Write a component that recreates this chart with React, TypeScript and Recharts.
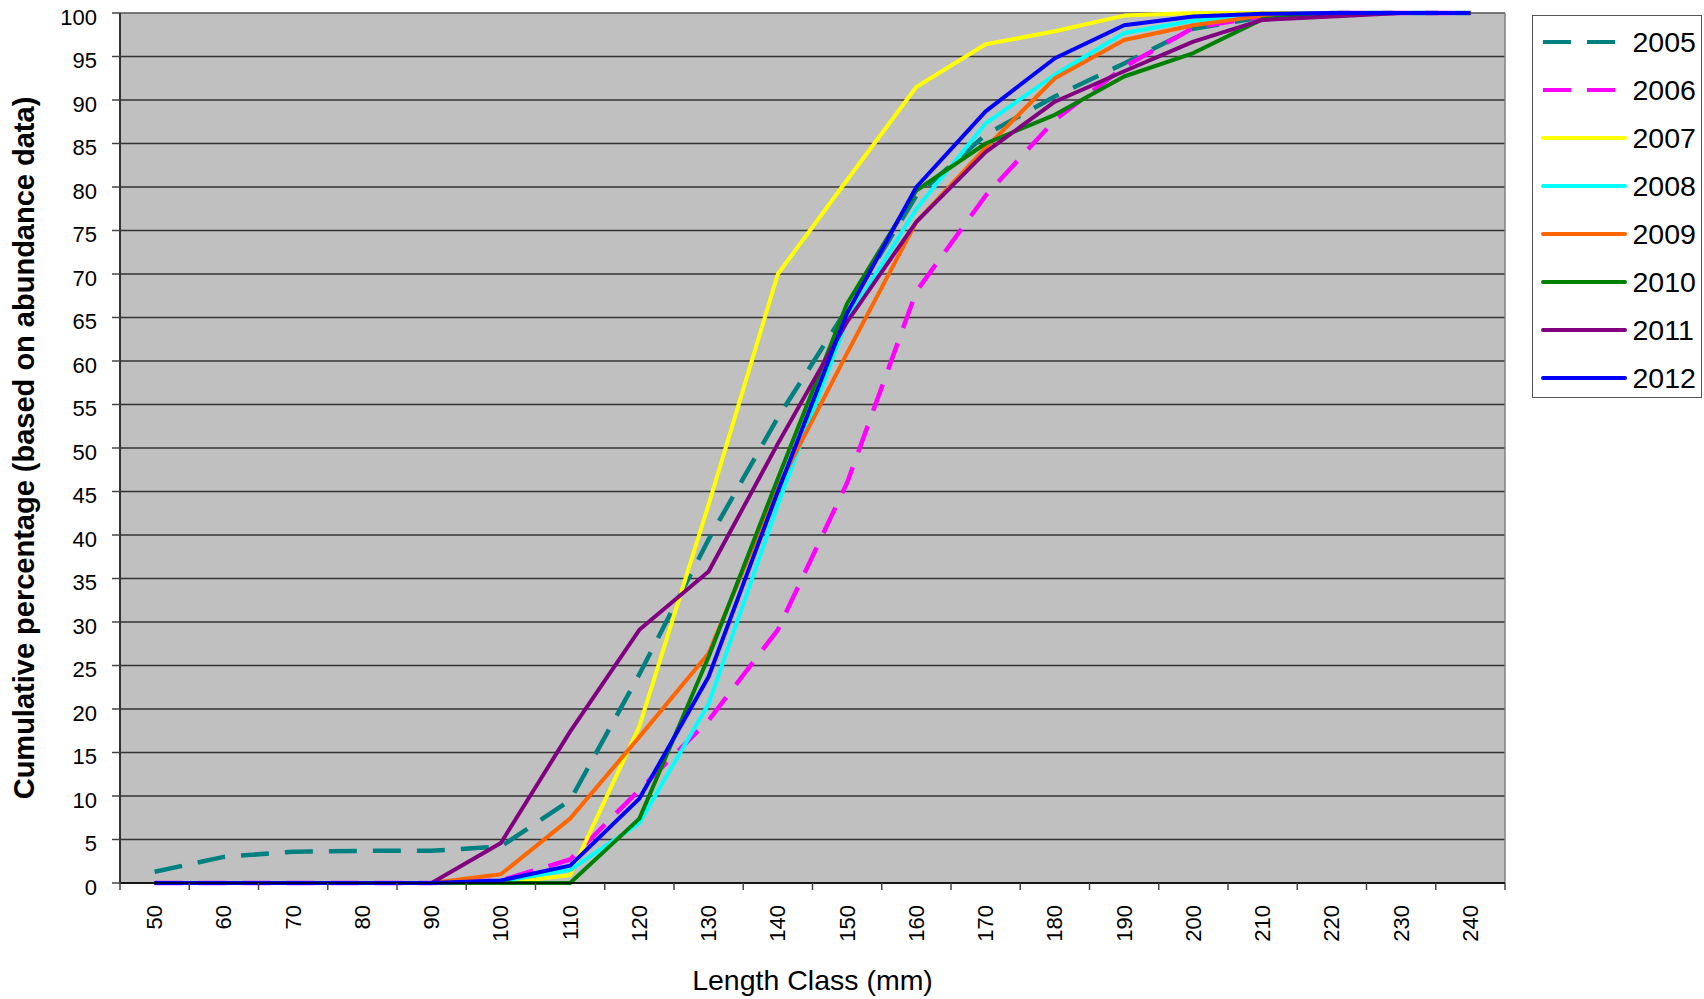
import { CartesianGrid, Line, LineChart, XAxis, YAxis } from "recharts";

const FONT = '"Liberation Sans", Arial, sans-serif';

const LENGTH_CLASSES = [50, 60, 70, 80, 90, 100, 110, 120, 130, 140, 150, 160, 170, 180, 190, 200, 210, 220, 230, 240];
const Y_TICKS = [0, 5, 10, 15, 20, 25, 30, 35, 40, 45, 50, 55, 60, 65, 70, 75, 80, 85, 90, 95, 100];

// cumulative % per length class
const Y2005 = [1.3, 3.0, 3.6, 3.7, 3.7, 4.2, 9.5, 24, 39.5, 53.5, 66, 79, 86, 90.4, 94.2, 98.2, 99.5, 100, 100, 100];
const Y2006 = [0, 0, 0, 0, 0, 0.3, 2.7, 10.7, 18.7, 29.1, 46, 68, 79, 87.7, 93.8, 98.3, 99.6, 100, 100, 100];
const Y2007 = [0, 0, 0, 0, 0, 0, 0.9, 18, 43.5, 70, 80.8, 91.5, 96.4, 97.9, 99.7, 100, 100, 100, 100, 100];
const Y2008 = [0, 0, 0, 0, 0, 0.2, 1.5, 6.9, 20.6, 43.5, 64.7, 77.5, 87.3, 92.9, 97.7, 99.1, 99.8, 100, 100, 100];
const Y2009 = [0, 0, 0, 0, 0, 1.0, 7.4, 16.8, 26.4, 45.5, 60.9, 76, 84.5, 92.5, 96.9, 98.6, 99.7, 100, 100, 100];
const Y2010 = [0, 0, 0, 0, 0, 0, 0, 7.4, 26, 46.5, 66.6, 79.6, 85, 88.3, 92.7, 95.4, 99.3, 100, 100, 100];
const Y2011 = [0, 0, 0, 0, 0, 4.6, 17.4, 29.1, 35.8, 50.5, 64.5, 76, 84, 89.8, 93.3, 96.7, 99.2, 99.6, 100, 100];
const Y2012 = [0, 0, 0, 0, 0, 0.3, 2.0, 9.7, 23.7, 45, 65.5, 80, 88.7, 94.8, 98.6, 99.6, 99.9, 100, 100, 100];

const SERIES = [
  { name: "2005", values: Y2005, color: "#008080", dashed: true },
  { name: "2006", values: Y2006, color: "#FF00FF", dashed: true },
  { name: "2007", values: Y2007, color: "#FFFF00", dashed: false },
  { name: "2008", values: Y2008, color: "#00FFFF", dashed: false },
  { name: "2009", values: Y2009, color: "#FF6600", dashed: false },
  { name: "2010", values: Y2010, color: "#008000", dashed: false },
  { name: "2011", values: Y2011, color: "#800080", dashed: false },
  { name: "2012", values: Y2012, color: "#0000FF", dashed: false },
];

const CHART_W = 1704;
const CHART_H = 999;
const MARGIN = { top: 13, right: 199, bottom: 0, left: 0 };
const Y_AXIS_W = 120;
const X_AXIS_H = 116;
const PLOT_W = CHART_W - MARGIN.left - MARGIN.right - Y_AXIS_W;
const BAND = PLOT_W / LENGTH_CLASSES.length; // excel-style category bands
const DASH = "28 16";

const rows = LENGTH_CLASSES.map((len, i) => {
  const row: Record<string, number | string> = { len: String(len) };
  SERIES.forEach((s) => {
    row[s.name] = s.values[i];
  });
  return row;
});

function XTick(props: any) {
  const { x, y, payload, index } = props;
  const last = index === LENGTH_CLASSES.length - 1;
  const ty = y + 22;
  return (
    <g>
      <line x1={x - BAND / 2} x2={x - BAND / 2} y1={y} y2={y + 7} stroke="#444" strokeWidth={1.5} />
      {last && <line x1={x + BAND / 2} x2={x + BAND / 2} y1={y} y2={y + 7} stroke="#444" strokeWidth={1.5} />}
      <text
        x={x}
        y={ty}
        transform={`rotate(-90 ${x} ${ty})`}
        textAnchor="end"
        dominantBaseline="central"
        fontSize={22}
        fontFamily={FONT}
        fill="#000"
      >
        {payload.value}
      </text>
    </g>
  );
}

function YTitle(props: any) {
  const vb = props.viewBox;
  const cx = vb.x + 23.5;
  const cy = vb.y + vb.height / 2;
  return (
    <text
      x={cx}
      y={cy}
      transform={`rotate(-90 ${cx} ${cy})`}
      textAnchor="middle"
      dominantBaseline="central"
      fontSize={29}
      fontWeight="bold"
      fontFamily={FONT}
      fill="#000"
    >
      Cumulative percentage (based on abundance data)
    </text>
  );
}

function LegendBox() {
  return (
    <div
      style={{
        position: "absolute",
        left: 1532,
        top: 15,
        width: 170,
        height: 383,
        boxSizing: "border-box",
        border: "1.5px solid #555",
        background: "#fff",
        paddingTop: 2,
      }}
    >
      {SERIES.map((s) => (
        <div key={s.name} style={{ display: "flex", alignItems: "center", height: 48 }}>
          <svg width={86} height={10} style={{ marginLeft: 7.5 }}>
            <line
              x1={2}
              x2={84}
              y1={5}
              y2={5}
              stroke={s.color}
              strokeWidth={4}
              strokeDasharray={s.dashed ? DASH : undefined}
              strokeLinecap={s.dashed ? "butt" : "round"}
            />
          </svg>
          <span style={{ marginLeft: 6, fontSize: 28.5, fontFamily: FONT, color: "#000", lineHeight: "48px" }}>
            {s.name}
          </span>
        </div>
      ))}
    </div>
  );
}

export default function App() {
  return (
    <div style={{ position: "absolute", left: 0, top: 0, width: CHART_W, height: CHART_H, background: "#fff" }}>
      <LineChart width={CHART_W} height={CHART_H} data={rows} margin={MARGIN}>
        <CartesianGrid vertical={false} stroke="#333" strokeWidth={1.5} fill="#C0C0C0" fillOpacity={1} />
        <CartesianGrid
          stroke="#808080"
          strokeWidth={1.5}
          horizontalCoordinatesGenerator={({ offset }: any) => [offset.top]}
          verticalCoordinatesGenerator={({ offset }: any) => [offset.left + offset.width]}
        />
        <XAxis
          dataKey="len"
          type="category"
          interval={0}
          height={X_AXIS_H}
          padding={{ left: BAND / 2, right: BAND / 2 }}
          tickLine={false}
          tickSize={0}
          tickMargin={0}
          axisLine={{ stroke: "#000", strokeWidth: 1.5 }}
          tick={<XTick />}
          label={{
            value: "Length Class (mm)",
            position: "insideBottom",
            offset: 9,
            style: { fontSize: 28.5, fill: "#000", fontFamily: FONT },
          }}
        />
        <YAxis
          type="number"
          domain={[0, 100]}
          ticks={Y_TICKS}
          interval={0}
          width={Y_AXIS_W}
          tickSize={8}
          tickMargin={15}
          tickLine={{ stroke: "#444", strokeWidth: 1.5 }}
          axisLine={{ stroke: "#333", strokeWidth: 2 }}
          tick={{ fontSize: 22, fill: "#000", fontFamily: FONT, dy: 4 }}
          label={{ content: <YTitle /> }}
        />
        {SERIES.map((s) => (
          <Line
            key={s.name}
            type="linear"
            dataKey={s.name}
            name={s.name}
            stroke={s.color}
            strokeWidth={s.dashed ? 4.5 : 4}
            strokeDasharray={s.dashed ? DASH : undefined}
            strokeLinejoin="round"
            dot={false}
            activeDot={false}
            isAnimationActive={false}
          />
        ))}
      </LineChart>
      <LegendBox />
    </div>
  );
}
